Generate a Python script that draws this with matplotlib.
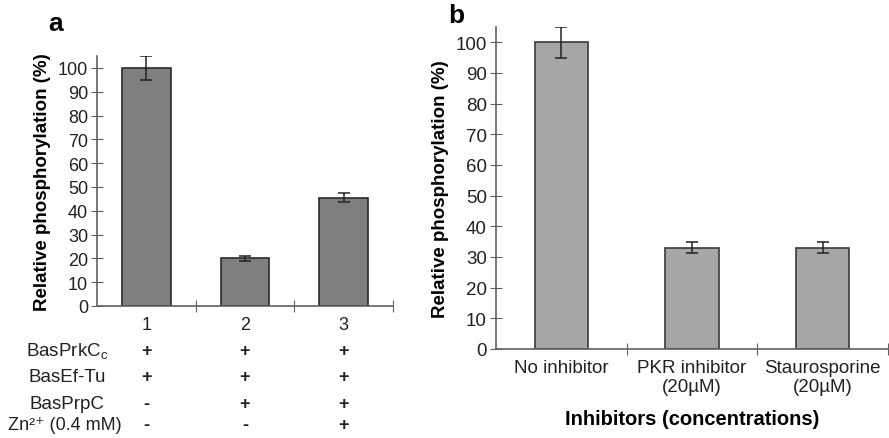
import numpy as np
import matplotlib.pyplot as plt

plt.rcParams['font.family'] = ['Liberation Sans', 'DejaVu Sans']

# panel a data
lanes = ['1', '2', '3']
vals_a = [100, 20, 45.5]
err_a = [5, 1, 2]
row_names = ['BasPrkC$_\\mathregular{c}$', 'BasEf-Tu', 'BasPrpC', 'Zn²⁺ (0.4 mM)']
row_signs = [['+', '+', '+'],
             ['+', '+', '+'],
             ['-', '+', '+'],
             ['-', '-', '+']]

# panel b data
inhibitors = ['No inhibitor', 'PKR inhibitor\n(20µM)', 'Staurosporine\n(20µM)']
vals_b = [100, 33, 33]
err_b = [5, 1.8, 1.8]

W, H = 889, 439
fig = plt.figure(figsize=(W / 100, H / 100), dpi=100)

def box(l, r, b, t):
    return [l / W, 1 - b / H, (r - l) / W, (b - t) / H]

axcol = '#606060'

def style(ax, fs):
    for s in ['top', 'right']:
        ax.spines[s].set_visible(False)
    for s in ['left', 'bottom']:
        ax.spines[s].set_color(axcol)
        ax.spines[s].set_linewidth(1.2)
    ax.set_xlim(-0.5, 2.5)
    ax.set_ylim(0, 105)
    ax.set_yticks(np.arange(0, 101, 10))
    ax.tick_params(axis='y', direction='inout', length=9, color=axcol, labelsize=fs, pad=2,
                   labelcolor='#222222')
    ax.set_xticks([0.5, 1.5, 2.5])
    ax.set_xticklabels([])
    ax.tick_params(axis='x', which='major', direction='inout', length=9, color=axcol)
    ax.set_xticks([0, 1, 2], minor=True)
    ax.tick_params(axis='x', which='minor', length=0, labelsize=fs, pad=7, labelcolor='#222222')

# ---- panel a
ax1 = fig.add_axes(box(97, 393, 307, 57))
x = np.arange(len(lanes))
ax1.bar(x, vals_a, width=0.49, color='#7f7f7f', edgecolor='#2a2a2a', linewidth=1.2,
        yerr=err_a, error_kw=dict(ecolor='#222222', elinewidth=1.1, capsize=4, capthick=1.1))
style(ax1, 13)
ax1.set_xticklabels(lanes, minor=True)
ax1.set_ylabel('Relative phosphorylation (%)', fontsize=13.5, fontweight='bold', labelpad=5)
tr = ax1.get_xaxis_transform()
row_y = [-0.18, -0.284, -0.39, -0.475]
for i, (name, signs, yy) in enumerate(zip(row_names, row_signs, row_y)):
    if i < 3:
        ax1.text(-0.805, yy, name, transform=tr, ha='center', va='center', fontsize=13.5, color='#222222')
    else:
        ax1.text(-0.25, yy, name, transform=tr, ha='right', va='center', fontsize=13, color='#222222')
    for xi, s in zip(x, signs):
        ax1.text(xi, yy, s, transform=tr, ha='center', va='center', fontsize=13,
                 fontweight='bold', color='#222222')
fig.text(48 / W, 1 - 24 / H, 'a', fontsize=19, fontweight='bold', ha='left', va='center')

# ---- panel b
ax2 = fig.add_axes(box(496, 888, 350, 28))
x2 = np.arange(len(inhibitors))
ax2.bar(x2, vals_b, width=0.41, color='#a6a6a6', edgecolor='#3a3a3a', linewidth=1.2,
        yerr=err_b, error_kw=dict(ecolor='#222222', elinewidth=1.1, capsize=4, capthick=1.1))
style(ax2, 13.5)
ax2.set_xticklabels(inhibitors, minor=True)
ax2.set_ylabel('Relative phosphorylation (%)', fontsize=13.5, fontweight='bold', labelpad=5)
ax2.set_xlabel('Inhibitors (concentrations)', fontsize=14.5, fontweight='bold', labelpad=10)
fig.text(448 / W, 1 - 16 / H, 'b', fontsize=19, fontweight='bold', ha='left', va='center')

fig.savefig('out.png', dpi=100)
